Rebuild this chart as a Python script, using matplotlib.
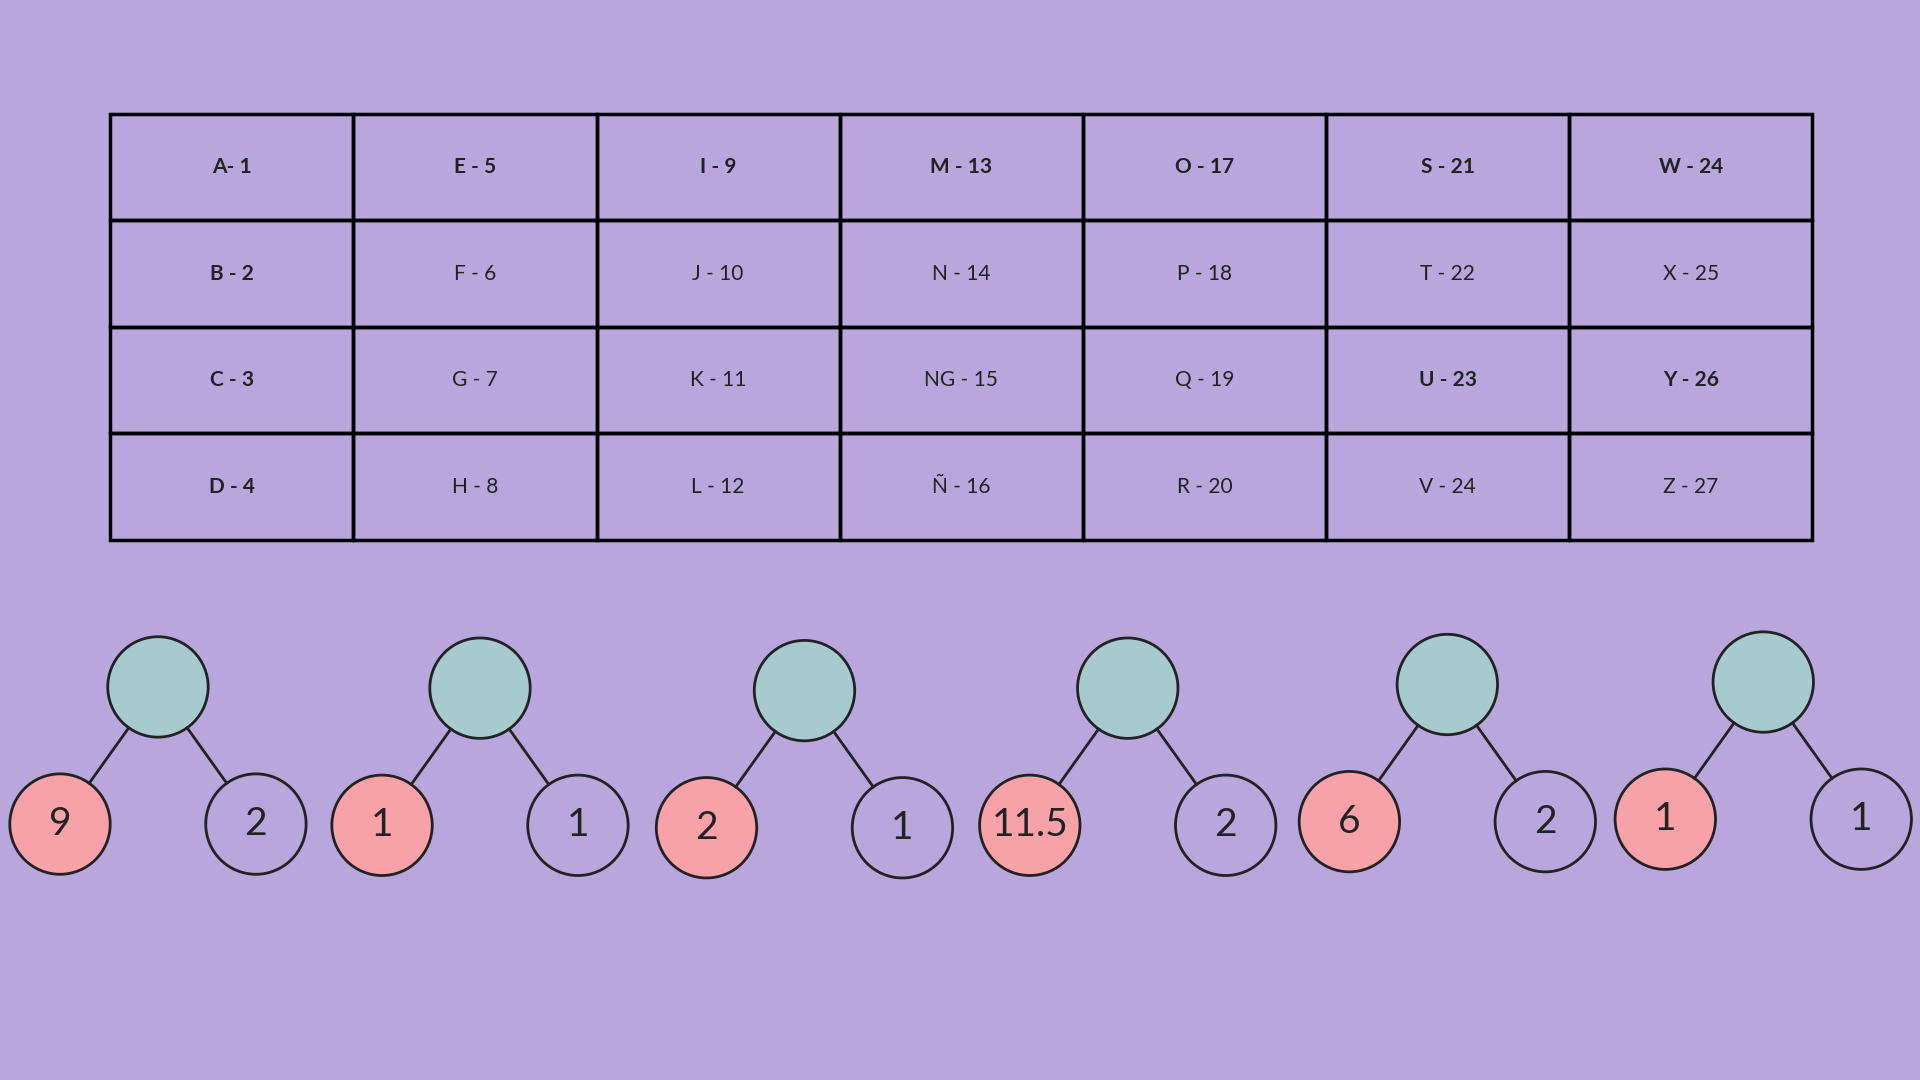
import matplotlib
matplotlib.use("Agg")
import matplotlib.pyplot as plt
from matplotlib.patches import Circle, Rectangle
import numpy as np

# table contents (column-major as read)
cells = [
    ["A- 1", "E - 5", "I - 9", "M - 13", "O - 17", "S - 21", "W - 24"],
    ["B - 2", "F - 6", "J - 10", "N - 14", "P - 18", "T - 22", "X - 25"],
    ["C - 3", "G - 7", "K - 11", "NG - 15", "Q - 19", "U - 23", "Y - 26"],
    ["D - 4", "H - 8", "L - 12", "Ñ - 16", "R - 20", "V - 24", "Z - 27"],
]
bold_cells = {(2, 5), (2, 6)}

# number bonds: root centre, left value, right value
roots_x = [129, 392, 657, 921, 1182, 1440]
roots_y = [561, 562, 564, 562, 559, 557]
left_vals = ["9", "1", "2", "11.5", "6", "1"]
right_vals = ["2", "1", "1", "2", "2", "1"]

bg = "#B8A6DD"
teal = "#A6CACE"
pink = "#F7A1A8"

W, H = 1568, 882
fig = plt.figure(figsize=(19.2, 10.8), dpi=100, facecolor=bg)
ax = fig.add_axes([0, 0, 1, 1])
ax.set_facecolor(bg)
ax.set_xlim(0, W)
ax.set_ylim(H, 0)
ax.set_aspect("auto")
ax.axis("off")

x0, x1, y0, y1 = 90, 1480, 93, 441
ncol, nrow = 7, 4
cw = (x1 - x0) / ncol
rh = (y1 - y0) / nrow
for r in range(nrow):
    for c in range(ncol):
        ax.add_patch(Rectangle((x0 + c * cw, y0 + r * rh), cw, rh, fill=False, lw=2.5, ec="black"))
        bold = r == 0 or c == 0 or (r, c) in bold_cells
        ax.text(x0 + (c + 0.5) * cw, y0 + (r + 0.5) * rh, cells[r][c], ha="center", va="center",
                fontsize=15, family="Lato", fontweight="bold" if bold else "normal", color="#222222")

rad = 41
sx = W / 19.2 / 100  # not used for aspect; circles drawn in data units
for rx, ry, lv, rv in zip(roots_x, roots_y, left_vals, right_vals):
    lx, ly = rx - 80, ry + 112
    rxx, ryy = rx + 80, ry + 112
    for cx, cy in [(lx, ly), (rxx, ryy)]:
        d = np.array([cx - rx, cy - ry], float)
        d /= np.hypot(*d)
        ax.plot([rx + d[0] * rad, cx - d[0] * rad], [ry + d[1] * rad, cy - d[1] * rad], color="#222222", lw=2)
    ax.add_patch(Circle((rx, ry), rad, fc=teal, ec="#222222", lw=2))
    ax.add_patch(Circle((lx, ly), rad, fc=pink, ec="#222222", lw=2))
    ax.add_patch(Circle((rxx, ryy), rad, fc=bg, ec="#222222", lw=2))
    ax.text(lx, ly, lv, ha="center", va="center", fontsize=28, family="Lato", color="#222222")
    ax.text(rxx, ryy, rv, ha="center", va="center", fontsize=28, family="Lato", color="#222222")

fig.savefig("out.png", dpi=100, facecolor=bg)
